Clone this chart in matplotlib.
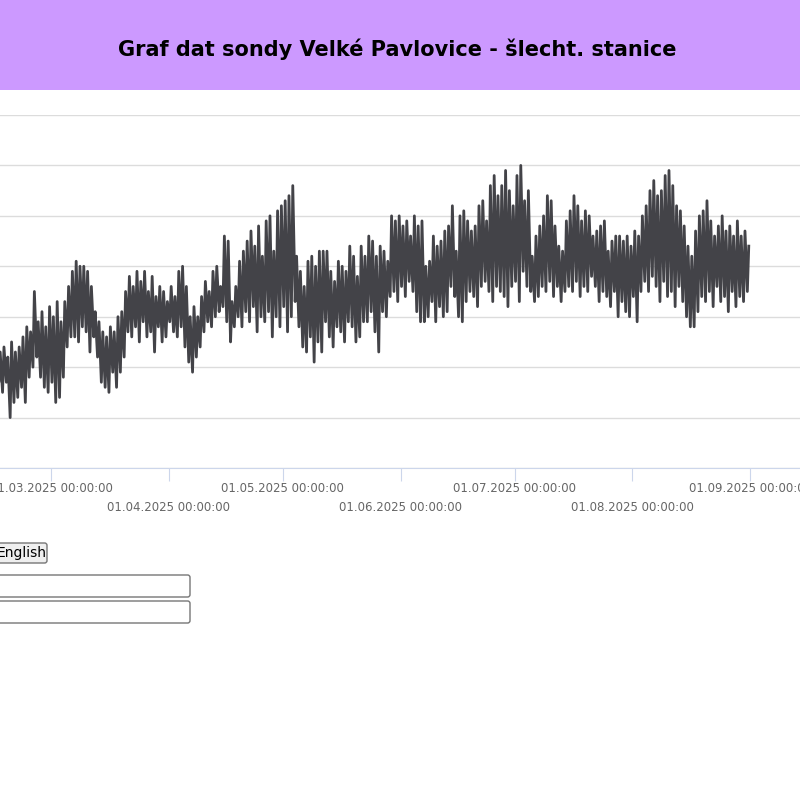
import datetime as dt
import matplotlib
matplotlib.use('Agg')
import matplotlib.pyplot as plt
from matplotlib.patches import Rectangle, FancyBboxPatch

# =========================================================
# Data (daily lows / highs, grid units)
# =========================================================
start_day = dt.datetime(2025, 2, 15)

daily_high = [
    2.3, 2.4, 2.2, 2.5, 2.3, 2.4, 2.6, 2.8, 2.7, 3.5,
    2.9, 3.1, 2.8, 3.2, 3.0, 3.3, 2.9, 3.3, 3.6, 3.9,
    4.1, 4.0, 4.0, 3.9, 3.6, 3.1, 2.9, 2.7, 2.6, 2.8,
    2.7, 3.0, 3.1, 3.5, 3.8, 3.6, 3.9, 3.7, 3.9, 3.5,
    3.8, 3.4, 3.6, 3.5, 3.3, 3.6, 3.4, 3.9, 4.0, 3.6,
    3.0, 3.2, 3.0, 3.4, 3.7, 3.5, 3.9, 4.0, 3.6, 4.6,
    4.5, 3.3, 3.6, 4.1, 4.3, 4.5, 4.7, 4.4, 4.8, 4.2,
    4.9, 5.0, 4.3, 5.1, 5.2, 5.3, 5.4, 5.6, 4.2, 3.9,
    3.6, 4.1, 4.2, 4.0, 4.3, 4.3, 4.3, 3.9, 3.7, 4.1,
    4.0, 3.9, 4.4, 4.2, 3.8, 4.4, 4.2, 4.6, 4.5, 4.2,
    4.4, 4.3, 4.1, 5.0, 4.9, 5.0, 4.8, 4.9, 4.6, 5.0,
    4.8, 4.9, 4.0, 4.1, 4.6, 4.4, 4.5, 4.7, 4.8, 5.2,
    4.3, 5.0, 5.1, 4.9, 4.7, 4.8, 5.2, 5.3, 4.9, 5.6,
    5.8, 5.4, 5.6, 5.9, 5.5, 5.2, 5.8, 6.0, 5.3, 5.5,
    4.2, 4.6, 4.8, 5.0, 5.4, 5.3, 4.8, 4.4, 4.3, 4.9,
    5.1, 5.4, 5.2, 4.9, 5.1, 5.0, 4.6, 4.7, 4.8, 4.9,
    4.3, 4.5, 4.6, 4.6, 4.5, 4.6, 4.4, 4.7, 4.6, 5.0,
    5.2, 5.5, 5.7, 5.4, 5.5, 5.8, 5.9, 5.6, 5.2, 5.1,
    4.8, 4.4, 4.2, 4.7, 5.0, 5.1, 5.3, 4.9, 4.6, 4.8,
    5.0, 4.7, 4.8, 4.6, 4.9, 4.6, 4.7, 4.4,
]

daily_low = [
    1.6, 1.5, 1.7, 1.0, 1.3, 1.4, 1.6, 1.3, 1.8, 2.0,
    2.2, 1.8, 1.6, 1.5, 1.7, 1.3, 1.4, 1.8, 2.4, 2.6,
    2.6, 2.5, 2.8, 2.7, 2.3, 2.6, 2.2, 1.7, 1.6, 1.5,
    1.9, 1.6, 1.9, 2.2, 2.7, 2.6, 2.8, 2.5, 2.9, 2.6,
    2.7, 2.3, 2.8, 2.5, 2.6, 2.9, 2.7, 2.6, 2.8, 2.4,
    2.1, 1.9, 2.2, 2.4, 2.7, 2.9, 2.8, 3.0, 3.1, 3.2,
    2.9, 2.5, 2.8, 3.0, 2.8, 3.1, 2.9, 3.2, 2.7, 3.0,
    2.9, 3.1, 2.6, 3.0, 2.8, 3.2, 2.7, 3.0, 3.3, 2.8,
    2.4, 2.3, 2.6, 2.1, 2.5, 2.3, 2.9, 2.6, 2.4, 2.8,
    2.7, 2.5, 2.9, 2.8, 2.5, 2.6, 2.9, 2.9, 3.1, 2.7,
    2.3, 3.1, 3.0, 3.4, 3.5, 3.3, 3.6, 3.4, 3.7, 3.5,
    3.1, 2.9, 2.9, 3.0, 3.3, 2.9, 3.2, 3.0, 3.1, 3.6,
    3.4, 3.0, 2.9, 3.3, 3.5, 3.4, 3.2, 3.6, 3.7, 3.5,
    3.3, 3.6, 3.5, 3.4, 3.2, 3.6, 3.7, 3.3, 3.9, 3.6,
    3.5, 3.3, 3.4, 3.6, 3.5, 3.7, 3.4, 3.6, 3.3, 3.5,
    3.6, 3.5, 3.7, 3.4, 3.6, 3.5, 3.8, 3.6, 3.3, 3.5,
    3.4, 3.2, 3.5, 3.0, 3.3, 3.1, 3.0, 3.4, 2.9, 3.5,
    3.7, 3.5, 3.8, 3.6, 3.3, 3.7, 3.4, 3.5, 3.2, 3.6,
    3.3, 3.0, 2.8, 2.8, 3.1, 3.4, 3.3, 3.5, 3.2, 3.6,
    3.3, 3.4, 3.1, 3.5, 3.2, 3.4, 3.3, 3.5,
]

title_text = "Graf dat sondy Velké Pavlovice - šlecht. stanice"
button_text = "English"

# interleave lows (06:00) and highs (15:00) into one time series
times, values = [], []
for i, (lo, hi) in enumerate(zip(daily_low, daily_high)):
    day = start_day + dt.timedelta(days=i)
    times += [day + dt.timedelta(hours=6), day + dt.timedelta(hours=15)]
    values += [lo, hi]

# =========================================================
# Figure
# =========================================================
W = H = 800
fig = plt.figure(figsize=(8, 8), dpi=100)
fig.patch.set_facecolor('white')

def fy(py):
    return 1 - py / H

# title banner
fig.patches.append(Rectangle((0, fy(90)), 1, 90 / H, transform=fig.transFigure,
                             facecolor='#cc99ff', edgecolor='none'))
fig.text(397 / W, fy(49), title_text, ha='center', va='center',
         fontsize=15, fontweight='bold', color='black')

# chart
ax = fig.add_axes([0, fy(468), 1, (468 - 115) / H])
ax.plot(times, values, color='#434348', linewidth=2)

ax.set_yticks(range(8))
ax.yaxis.set_tick_params(length=0, labelleft=False)
ax.grid(axis='y', color='#dcdcdc', linewidth=1)
ax.set_axisbelow(True)
for s in ['top', 'left', 'right']:
    ax.spines[s].set_visible(False)
ax.spines['bottom'].set_color('#ccd6eb')

month_ticks = [dt.datetime(2025, m, 1) for m in range(2, 10)]
labels = []
for k, d in enumerate(month_ticks):
    lab = d.strftime('%d.%m.%Y 00:00:00')
    labels.append(lab if k % 2 == 1 else '\n' + lab)
ax.set_xticks(month_ticks)
ax.set_xticklabels(labels, fontsize=8.5, color='#666666', linespacing=1.6)
ax.tick_params(axis='x', length=9, color='#ccd6eb', pad=1)

# limits after the ticks, so the ticks do not widen the view
px_per_day = 3.8
mar1 = dt.datetime(2025, 3, 1)
left = mar1 - dt.timedelta(days=51 / px_per_day)
right = left + dt.timedelta(days=W / px_per_day)
ax.set_xlim(left, right)
ax.set_ylim(0, 7)

# form controls under the chart
fig.patches.append(FancyBboxPatch((-10 / W, fy(563)), 57 / W, 20 / H,
                                  boxstyle='round,pad=0,rounding_size=0.003',
                                  transform=fig.transFigure, facecolor='#efefef',
                                  edgecolor='#767676', linewidth=1))
fig.text(-3 / W, fy(553), button_text, ha='left', va='center', fontsize=10)
for top in (575, 601):
    fig.patches.append(FancyBboxPatch((-10 / W, fy(top + 22)), 200 / W, 22 / H,
                                      boxstyle='round,pad=0,rounding_size=0.003',
                                      transform=fig.transFigure, facecolor='white',
                                      edgecolor='#767676', linewidth=1))

fig.savefig('out.png', dpi=100)
